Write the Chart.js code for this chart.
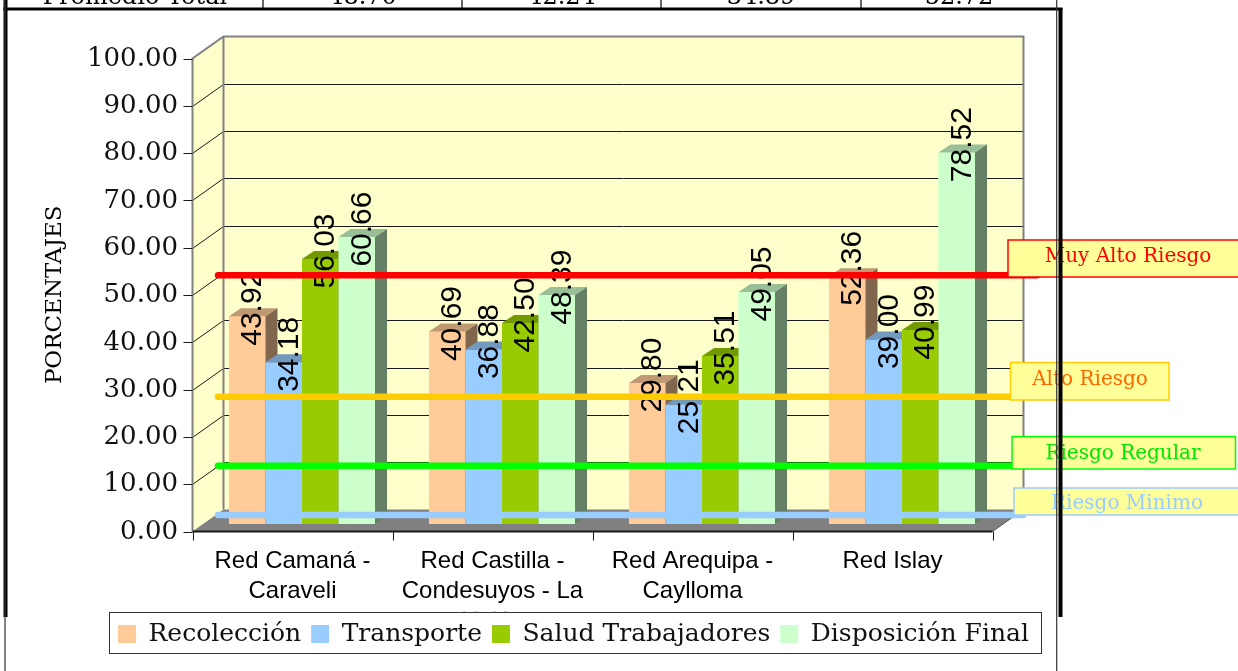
<!DOCTYPE html>
<html>
<head>
<meta charset="utf-8">
<script src="https://cdn.jsdelivr.net/npm/chart.js@4.4.1/dist/chart.umd.min.js"></script>
<style>
html,body{margin:0;padding:0;background:#fff;overflow:hidden}
canvas{display:block}
</style>
</head>
<body>
<canvas id="c" width="1238" height="671"></canvas>
<script>
// ---------------- data ----------------
const categories = [
  ["Red Camaná -", "Caraveli"],
  ["Red Castilla -", "Condesuyos - La", "Unión"],
  ["Red Arequipa -", "Caylloma"],
  ["Red Islay"]
];
const seriesNames = ["Recolección", "Transporte", "Salud Trabajadores", "Disposición Final"];
const recoleccion       = [43.92, 40.69, 29.80, 52.36];
const transporte        = [34.18, 36.88, 25.21, 39.00];
const saludTrabajadores = [56.03, 42.50, 35.51, 40.99];
const disposicionFinal  = [60.66, 48.39, 49.05, 78.52];
const yTicks = [0, 10, 20, 30, 40, 50, 60, 70, 80, 90, 100];
const yAxisTitle = "PORCENTAJES";
const riskNames  = ["Muy Alto Riesgo", "Alto Riesgo", "Riesgo Regular", "Riesgo Minimo"];
const riskLevels = [52.6, 26.9, 12.3, 1.9];
const summaryLabel  = "Promedio Total";
const summaryValues = [48.70, 42.24, 34.89, 52.72];

// ---------------- styles ----------------
const seriesColors = ["#FFCC99", "#99CCFF", "#99CC00", "#CCFFCC"];
const riskStyle = [
  {line: "#FF0000", text: "#FF0000", border: "#FF0000", end: 1037, box: [1008, 240, 240, 37], tx: 1128, ty: 257},
  {line: "#FFCC00", text: "#FF6600", border: "#FFCC00", end: 1011, box: [1010.5, 362.5, 158.5, 37.5], tx: 1090, ty: 380},
  {line: "#00FF00", text: "#00E600", border: "#00FF00", end: 1013, box: [1012, 436.5, 223.5, 32.5], tx: 1123, ty: 454},
  {line: "#99CCFF", text: "#99CCFF", border: "#99CCFF", end: 1023, box: [1014, 488, 240, 27], tx: 1127, ty: 504}
];
const GEO = {front: {dx: -9.5, dy: 7.5}, back: {dx: 21.5, dy: -14.5}, depth: {dx: 12, dy: -8}};

function rgbOf(hex) { const n = parseInt(hex.slice(1), 16); return [(n >> 16) & 255, (n >> 8) & 255, n & 255]; }
function shade(hex, f) { const c = rgbOf(hex); return `rgb(${Math.round(c[0]*f)},${Math.round(c[1]*f)},${Math.round(c[2]*f)})`; }

const seriesData = [recoleccion, transporte, saludTrabajadores, disposicionFinal];

function poly(ctx, pts) {
  ctx.beginPath();
  ctx.moveTo(pts[0][0], pts[0][1]);
  for (let i = 1; i < pts.length; i++) ctx.lineTo(pts[i][0], pts[i][1]);
  ctx.closePath();
}

const excel3d = {
  id: "excel3d",
  beforeDraw(chart) {
    const ctx = chart.ctx;
    ctx.save();
    ctx.fillStyle = "#fff";
    ctx.fillRect(0, 0, chart.width, chart.height);
    ctx.restore();
  },
  beforeDatasetsDraw(chart) {
    const ctx = chart.ctx;
    const xs = chart.scales.x, ys = chart.scales.y;
    const L = xs.left, R = xs.right;
    const p0 = ys.getPixelForValue(0), p100 = ys.getPixelForValue(100);
    const F = GEO.front, B = GEO.back;
    ctx.save();
    // back wall
    poly(ctx, [[L + B.dx, p100 + B.dy], [R + B.dx, p100 + B.dy], [R + B.dx, p0 + B.dy], [L + B.dx, p0 + B.dy]]);
    ctx.fillStyle = "#FFFFCC"; ctx.fill();
    // left side wall
    poly(ctx, [[L + F.dx, p100 + F.dy], [L + B.dx, p100 + B.dy], [L + B.dx, p0 + B.dy], [L + F.dx, p0 + F.dy]]);
    ctx.fillStyle = "#FFFFCC"; ctx.fill();
    // grid lines
    ctx.strokeStyle = "#1a1a1a"; ctx.lineWidth = 1;
    ys.ticks.forEach(t => {
      if (t.value <= 0 || t.value >= 100) return;
      const py = ys.getPixelForValue(t.value);
      ctx.beginPath();
      ctx.moveTo(L + F.dx, Math.round(py + F.dy) + 0.5);
      ctx.lineTo(L + B.dx, Math.round(py + B.dy) + 0.5);
      ctx.lineTo(R + B.dx, Math.round(py + B.dy) + 0.5);
      ctx.stroke();
    });
    // wall borders
    ctx.strokeStyle = "#808080"; ctx.lineWidth = 2;
    ctx.beginPath();
    ctx.moveTo(L + F.dx, p0 + F.dy);
    ctx.lineTo(L + F.dx, p100 + F.dy);
    ctx.lineTo(L + B.dx, p100 + B.dy);
    ctx.lineTo(R + B.dx, p100 + B.dy);
    ctx.lineTo(R + B.dx, p0 + B.dy);
    ctx.moveTo(L + B.dx, p100 + B.dy);
    ctx.lineTo(L + B.dx, p0 + B.dy);
    ctx.stroke();
    // floor
    poly(ctx, [[L + F.dx, p0 + F.dy], [R + F.dx, p0 + F.dy], [R + B.dx, p0 + B.dy], [L + B.dx, p0 + B.dy]]);
    ctx.fillStyle = "#808080"; ctx.fill();
    ctx.strokeStyle = "#555"; ctx.lineWidth = 1;
    ctx.beginPath();
    ctx.moveTo(R + F.dx, p0 + F.dy); ctx.lineTo(R + B.dx, p0 + B.dy);
    ctx.stroke();
    // front category axis
    ctx.strokeStyle = "#1a1a1a"; ctx.lineWidth = 2;
    ctx.beginPath();
    ctx.moveTo(L + F.dx, p0 + F.dy); ctx.lineTo(R + F.dx, p0 + F.dy);
    ctx.stroke();
    ctx.lineWidth = 1;
    const step = (R - L) / categories.length;
    for (let k = 0; k <= categories.length; k++) {
      const x = Math.round(L + F.dx + k * step) + 0.5;
      ctx.beginPath(); ctx.moveTo(x, p0 + F.dy); ctx.lineTo(x, p0 + F.dy + 9); ctx.stroke();
    }
    // front value axis ticks
    ys.ticks.forEach(t => {
      const py = Math.round(ys.getPixelForValue(t.value) + F.dy) + 0.5;
      ctx.beginPath(); ctx.moveTo(L + F.dx - 9, py); ctx.lineTo(L + F.dx, py); ctx.stroke();
    });
    // legend frame, then legend redrawn on top
    const lg = chart.legend;
    if (lg && lg.legendHitBoxes && lg.legendHitBoxes.length) {
      const hb = lg.legendHitBoxes;
      const minL = Math.min(...hb.map(h => h.left));
      const maxR = Math.max(...hb.map(h => h.left + h.width));
      const top = hb[0].top;
      const bx = Math.round(minL - 9) + 0.5, by = Math.round(top - 10) + 0.5;
      const bw = Math.round(maxR + 12 - (minL - 9)), bh = 41;
      ctx.fillStyle = "#fff";
      ctx.fillRect(bx - 1, by - 1, bw + 2, bh + 2);
      ctx.strokeStyle = "#333"; ctx.lineWidth = 1;
      ctx.strokeRect(bx, by, bw, bh);
      ctx.restore();
      lg.draw();
      return;
    }
    ctx.restore();
  },
  afterDatasetsDraw(chart) {
    const ctx = chart.ctx;
    const ys = chart.scales.y;
    const D = GEO.depth;
    const n = chart.data.labels.length;
    ctx.save();
    // painter's order: left to right within each category
    for (let j = 0; j < n; j++) {
      for (let i = 0; i < chart.data.datasets.length; i++) {
        const meta = chart.getDatasetMeta(i);
        const el = meta.data[j];
        if (!el) continue;
        el.draw(ctx);
        const p = el.getProps(["x", "y", "base", "width"], true);
        const l = p.x - p.width / 2, r = p.x + p.width / 2;
        const col = seriesColors[i];
        poly(ctx, [[l, p.y], [r, p.y], [r + D.dx, p.y + D.dy], [l + D.dx, p.y + D.dy]]);
        ctx.fillStyle = shade(col, 0.75); ctx.fill();
        poly(ctx, [[r, p.y], [r + D.dx, p.y + D.dy], [r + D.dx, p.base + D.dy], [r, p.base]]);
        ctx.fillStyle = shade(col, 0.5); ctx.fill();
      }
    }
    // data labels
    ctx.fillStyle = "#000";
    ctx.font = "30px 'Liberation Sans', Arial, sans-serif";
    ctx.textAlign = "center";
    ctx.textBaseline = "middle";
    for (let i = 0; i < chart.data.datasets.length; i++) {
      const meta = chart.getDatasetMeta(i);
      meta.data.forEach((el, j) => {
        const p = el.getProps(["x", "y"], true);
        const v = chart.data.datasets[i].data[j];
        ctx.save();
        ctx.translate(p.x + 4.5, p.y - 8);
        ctx.rotate(-Math.PI / 2);
        ctx.fillText(v.toFixed(2), 0, 1);
        ctx.restore();
      });
    }
    // risk lines and their labels
    const xs = chart.scales.x;
    riskLevels.forEach((lv, k) => {
      const st = riskStyle[k];
      const py = ys.getPixelForValue(lv);
      ctx.strokeStyle = st.line; ctx.lineWidth = 6.5; ctx.lineCap = "round";
      ctx.beginPath(); ctx.moveTo(xs.left + 16, py); ctx.lineTo(st.end, py); ctx.stroke();
    });
    ctx.lineCap = "butt";
    riskLevels.forEach((lv, k) => {
      const st = riskStyle[k];
      const [bx, by, bw, bh] = st.box;
      ctx.fillStyle = "#FFFF99";
      ctx.fillRect(bx, by, bw, bh);
      ctx.strokeStyle = st.border; ctx.lineWidth = 1.5;
      ctx.strokeRect(bx, by, bw, bh);
      ctx.fillStyle = st.text;
      ctx.font = "20px 'DejaVu Serif', serif";
      ctx.textAlign = "center"; ctx.textBaseline = "middle";
      ctx.fillText(riskNames[k], st.tx, st.ty);
    });
    ctx.restore();
  },
  afterDraw(chart) {
    const ctx = chart.ctx;
    ctx.save();
    // summary row (cut at top)
    const cells = [7, 263, 462, 661, 861, 1057];
    ctx.fillStyle = "#000";
    ctx.font = "24px 'DejaVu Serif', serif";
    ctx.textAlign = "center"; ctx.textBaseline = "alphabetic";
    const texts = [summaryLabel].concat(summaryValues.map(v => v.toFixed(2)));
    texts.forEach((t, k) => ctx.fillText(t, (cells[k] + cells[k + 1]) / 2, 4));
    ctx.fillRect(3.5, 7.5, 1059, 3);
    ctx.lineWidth = 1.2; ctx.strokeStyle = "#000";
    [263, 462, 661, 861].forEach(x => { ctx.beginPath(); ctx.moveTo(x, 0); ctx.lineTo(x, 8); ctx.stroke(); });
    // frame
    ctx.fillRect(3.5, 0, 4, 617);
    ctx.fillRect(1058.5, 8, 4, 609);
    ctx.strokeStyle = "#333"; ctx.lineWidth = 1.2;
    ctx.beginPath(); ctx.moveTo(5, 0); ctx.lineTo(5, 671); ctx.stroke();
    ctx.beginPath(); ctx.moveTo(1056.7, 0); ctx.lineTo(1056.7, 671); ctx.stroke();
    ctx.restore();
  }
};

const datasets = seriesNames.map((name, i) => ({
  label: name,
  data: seriesData[i],
  backgroundColor: seriesColors[i],
  borderWidth: 0
}));

new Chart(document.getElementById("c"), {
  type: "bar",
  data: {labels: categories, datasets},
  options: {
    responsive: false,
    devicePixelRatio: 1,
    animation: false,
    events: [],
    layout: {padding: {left: 0, right: 91, top: 51, bottom: 14.5}},
    datasets: {bar: {categoryPercentage: 0.73, barPercentage: 1.0}},
    scales: {
      x: {
        type: "category",
        grid: {display: false, drawTicks: false},
        border: {display: false},
        ticks: {
          autoSkip: false, maxRotation: 0, minRotation: 0,
          padding: 22.5, labelOffset: -9.5,
          color: "#000",
          font: {family: "'Liberation Sans', Arial, sans-serif", size: 24, lineHeight: 1.25}
        },
        afterFit(s) { s.height = 87.5; }
      },
      y: {
        type: "linear",
        min: 0, max: 100,
        grid: {display: false, drawTicks: false},
        border: {display: false},
        afterBuildTicks(s) { s.ticks = yTicks.map(v => ({value: v})); },
        ticks: {
          padding: 24, labelOffset: 8,
          color: "#111",
          font: {family: "'DejaVu Serif', serif", size: 26},
          callback: v => Number(v).toFixed(2)
        },
        title: {
          display: true, text: yAxisTitle + "  ",
          color: "#000",
          font: {family: "'DejaVu Serif', serif", size: 23},
          padding: {top: 41, bottom: 0}
        },
        afterFit(s) { s.width = 202; }
      },
      yPad: {
        type: "linear", position: "right", display: true,
        grid: {display: false, drawTicks: false},
        border: {display: false},
        ticks: {display: false},
        afterFit(s) { s.width = 145; }
      }
    },
    plugins: {
      tooltip: {enabled: false},
      legend: {
        display: true,
        position: "bottom",
        labels: {
          boxWidth: 18, boxHeight: 18, padding: 10,
          color: "#111",
          font: {family: "'DejaVu Serif', serif", size: 25}
        }
      }
    }
  },
  plugins: [excel3d]
});
</script>
</body>
</html>
